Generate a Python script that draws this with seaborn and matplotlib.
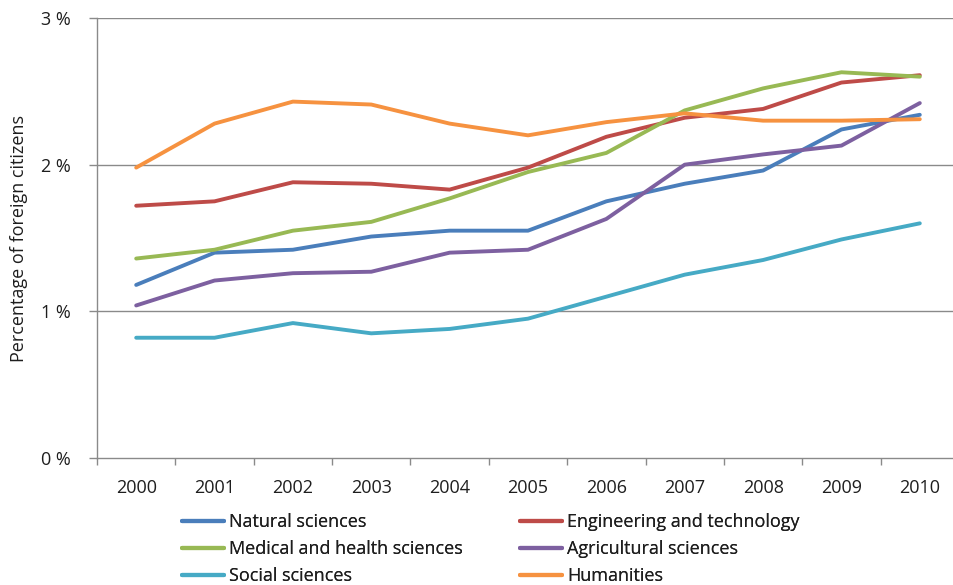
import matplotlib
matplotlib.use("Agg")
import matplotlib.pyplot as plt
from matplotlib.lines import Line2D
from matplotlib.ticker import FixedLocator, FuncFormatter
import numpy as np
import pandas as pd
import seaborn as sns

years = [2000, 2001, 2002, 2003, 2004, 2005, 2006, 2007, 2008, 2009, 2010]

natural_sciences = [1.18, 1.40, 1.42, 1.51, 1.55, 1.55, 1.75, 1.87, 1.96, 2.24, 2.34]
engineering_technology = [1.72, 1.75, 1.88, 1.87, 1.83, 1.98, 2.19, 2.32, 2.38, 2.56, 2.61]
medical_health = [1.36, 1.42, 1.55, 1.61, 1.77, 1.95, 2.08, 2.37, 2.52, 2.63, 2.60]
agricultural_sciences = [1.04, 1.21, 1.26, 1.27, 1.40, 1.42, 1.63, 2.00, 2.07, 2.13, 2.42]
social_sciences = [0.82, 0.82, 0.92, 0.85, 0.88, 0.95, 1.10, 1.25, 1.35, 1.49, 1.60]
humanities = [1.98, 2.28, 2.43, 2.41, 2.28, 2.20, 2.29, 2.35, 2.30, 2.30, 2.31]

series_names = [
    "Natural sciences",
    "Engineering and technology",
    "Medical and health sciences",
    "Agricultural sciences",
    "Social sciences",
    "Humanities",
]
series_values = [
    natural_sciences,
    engineering_technology,
    medical_health,
    agricultural_sciences,
    social_sciences,
    humanities,
]
series_colors = ["#4A7EBB", "#BE4B48", "#98B954", "#7D60A0", "#46AAC5", "#F69240"]

y_ticks = [0, 1, 2, 3]
y_label = "Percentage of foreign citizens"

df = pd.DataFrame(
    [
        {"year": yr, "value": v, "field": name}
        for name, vals in zip(series_names, series_values)
        for yr, v in zip(years, vals)
    ]
)

sns.set_theme(style="white")
plt.rcParams["font.family"] = ["Open Sans", "DejaVu Sans"]

W, H = 954, 585
fig = plt.figure(figsize=(W / 100, H / 100), dpi=100)
left, right, top, bottom = 97, 954, 18, 458
ax = fig.add_axes([left / W, 1 - bottom / H, (right - left) / W, (bottom - top) / H])

palette = dict(zip(series_names, series_colors))
sns.lineplot(
    data=df, x="year", y="value", hue="field", hue_order=series_names,
    palette=palette, linewidth=2.8, ax=ax, legend=False, zorder=3,
)

# category width: 78.5 px per year
ax.set_xlim(1999.5, 2010.5 - 5 / 78.5)
ax.set_ylim(0, 3)

grid_col = "#8A8A8A"
text_col = "#1E1E1E"
fs = 13.0
ax.set_yticks(y_ticks)
ax.yaxis.set_major_formatter(FuncFormatter(lambda v, p: f"{int(v)} %"))
for yv in y_ticks[1:]:
    ax.axhline(yv, color=grid_col, linewidth=1.0, zorder=1)

ax.set_xticks(years)
ax.set_xticklabels([str(y) for y in years])
ax.xaxis.set_minor_locator(FixedLocator([y - 0.5 for y in years]))
ax.tick_params(axis="x", which="major", length=0, pad=15, labelsize=fs, labelcolor=text_col)
ax.tick_params(axis="x", which="minor", length=5, width=1, color=grid_col, direction="out")
ax.tick_params(axis="y", which="major", length=6, width=1, color=grid_col, direction="out",
               pad=13, labelsize=fs, labelcolor=text_col)
ax.tick_params(bottom=True, left=True, which="both")

for side in ["top", "right"]:
    ax.spines[side].set_visible(False)
for side in ["left", "bottom"]:
    ax.spines[side].set_color(grid_col)
    ax.spines[side].set_linewidth(1.0)

ax.set_xlabel("")
ax.set_ylabel(y_label, fontsize=fs, color=text_col, labelpad=9)

# two legend columns, three entries each
columns = [[0, 2, 4], [1, 3, 5]]
col_x = [182, 520]
for idxs, cx in zip(columns, col_x):
    handles = [Line2D([0], [0], color=series_colors[i], linewidth=3) for i in idxs]
    labels = [series_names[i] for i in idxs]
    leg = fig.legend(
        handles, labels, ncol=1, loc="upper left",
        bbox_to_anchor=(cx / W, 1 - 513 / H), frameon=False,
        fontsize=fs, handlelength=2.3, handletextpad=0.33,
        labelspacing=0.5, borderaxespad=0, borderpad=0,
        labelcolor=text_col,
    )
    fig.add_artist(leg)

fig.savefig("out.png", dpi=100, facecolor="white")
